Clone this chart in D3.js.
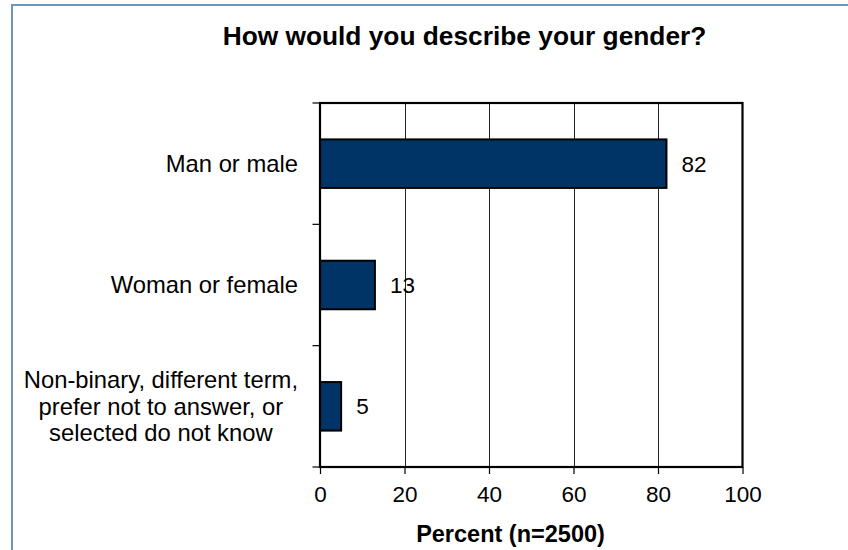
<!DOCTYPE html>
<html><head><meta charset="utf-8">
<script src="https://cdn.jsdelivr.net/npm/d3@7"></script>
<style>
html,body{margin:0;padding:0;background:#fff;}
svg{display:block;font-family:"Liberation Sans",Arial,sans-serif;}
</style></head>
<body>
<svg id="chart" width="848" height="550"></svg>
<script>
const categories = [
  ["Man or male"],
  ["Woman or female"],
  ["Non-binary, different term,", "prefer not to answer, or", "selected do not know"]
];
const values = [82, 13, 5];
const xTicks = [0, 20, 40, 60, 80, 100];
const titleText = "How would you describe your gender?";
const xTitle = "Percent (n=2500)";

const svg = d3.select("#chart");
const W = 848, H = 550;
const plot = {left: 320, right: 742.5, top: 103, bottom: 467};

// outer frame
svg.append("rect").attr("x", 12).attr("y", 5).attr("width", W).attr("height", H + 20)
  .attr("fill", "#fff").attr("stroke", "#7093b8").attr("stroke-width", 2);

const x = d3.scaleLinear().domain([0, 100]).range([plot.left, plot.right]);
const y = d3.scaleBand().domain(d3.range(categories.length)).range([plot.top, plot.bottom])
  .paddingInner(0.6).paddingOuter(0.3);
const yb = d3.scaleBand().domain(d3.range(categories.length)).range([plot.top, plot.bottom]);

// gridlines
svg.append("g").selectAll("line").data(xTicks.filter(t => t > 0 && t < 100)).join("line")
  .attr("x1", d => Math.round(x(d)) + 0.5).attr("x2", d => Math.round(x(d)) + 0.5)
  .attr("y1", plot.top).attr("y2", plot.bottom)
  .attr("stroke", "#222").attr("stroke-width", 1);

// bars
svg.append("g").selectAll("rect").data(values).join("rect")
  .attr("x", x(0)).attr("y", (d, i) => y(i))
  .attr("width", d => x(d) - x(0)).attr("height", y.bandwidth())
  .attr("fill", "#003466").attr("stroke", "#000").attr("stroke-width", 2);

// plot frame
svg.append("rect").attr("x", plot.left).attr("y", plot.top)
  .attr("width", plot.right - plot.left).attr("height", plot.bottom - plot.top)
  .attr("fill", "none").attr("stroke", "#000").attr("stroke-width", 2.2);

// x axis ticks & labels
const xAxis = d3.axisBottom(x).tickValues(xTicks).tickSize(7).tickPadding(12).tickSizeOuter(0);
const gx = svg.append("g").attr("transform", `translate(0,${plot.bottom})`).call(xAxis);
gx.select(".domain").remove();
gx.selectAll(".tick line").attr("stroke", "#000").attr("stroke-width", 1.2);
gx.selectAll(".tick text").attr("font-size", 22.5).attr("fill", "#000")
  .attr("font-family", "Liberation Sans, Arial, sans-serif");

// y axis ticks at band boundaries
const yEdges = d3.range(categories.length + 1).map(i => i < categories.length ? yb(i) : plot.bottom);
svg.append("g").selectAll("line").data(yEdges).join("line")
  .attr("x1", plot.left - 7.5).attr("x2", plot.left)
  .attr("y1", d => d).attr("y2", d => d)
  .attr("stroke", "#000").attr("stroke-width", 1.2);

// category labels
const labelRight = 298;
const lineH = 26.5;
categories.forEach((lines, i) => {
  const cy = yb(i) + yb.bandwidth() / 2;
  const g = svg.append("g");
  const texts = g.selectAll("text").data(lines).join("text")
    .attr("font-size", 23.8).attr("fill", "#000")
    .attr("y", (d, j) => cy + (j - (lines.length - 1) / 2) * lineH)
    .attr("dy", "0.35em")
    .attr("text-anchor", "middle")
    .text(d => d);
  let maxW = 0;
  texts.each(function () { maxW = Math.max(maxW, this.getComputedTextLength()); });
  texts.attr("x", labelRight - maxW / 2);
});

// value labels
svg.append("g").selectAll("text").data(values).join("text")
  .attr("x", d => x(d) + 15).attr("y", (d, i) => y(i) + y.bandwidth() / 2)
  .attr("dy", "0.35em").attr("font-size", 22.5).attr("fill", "#000")
  .text(d => d);

// title
svg.append("text").attr("x", 464.5).attr("y", 45).attr("text-anchor", "middle")
  .attr("font-size", 26.3).attr("font-weight", "bold").attr("fill", "#000")
  .text(titleText);

// x axis title
svg.append("text").attr("x", 510.5).attr("y", 541.5).attr("text-anchor", "middle")
  .attr("font-size", 23.5).attr("font-weight", "bold").attr("fill", "#000")
  .text(xTitle);
</script>
</body></html>
